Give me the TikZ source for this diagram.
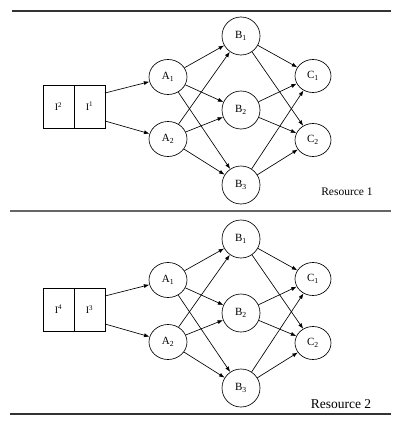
\documentclass[tikz,border=0pt]{standalone}
\usepackage{fontspec}
\setmainfont{Liberation Serif}
\usetikzlibrary{arrows.meta,shapes.geometric}
\begin{document}
\begin{tikzpicture}[x=1pt,y=-1pt,
  nodeA/.style={draw,ellipse,line width=0.65pt,minimum width=38pt,minimum height=35pt,inner sep=0pt,font=\fontsize{11}{13}\selectfont},
  nodeB/.style={nodeA,minimum height=38pt},
  nodeC/.style={nodeA,minimum width=36pt,minimum height=33pt},
  cell/.style={draw,line width=0.65pt,minimum width=31pt,minimum height=43pt,inner sep=0pt,font=\fontsize{10}{12}\selectfont},
  arr/.style={-{Latex[length=5.5pt,width=4pt]},line width=0.65pt},
  rule/.style={line width=1.2pt,draw=black!80}]
\useasboundingbox (0,0) rectangle (406,423);
\draw[rule] (12,11) -- (391,11);
\draw[line width=1.6pt,draw=black!60] (10,211) -- (391,211);
\draw[rule] (10,414) -- (391,414);
\foreach \p/\dy/\ia/\ib in {1/0/2/1,2/203/4/3}{
\begin{scope}[yshift=-\dy pt]
  \node[cell] (L\p) at (58.5,106.5) {I\textsuperscript{\ia}};
  \node[cell] (R\p) at (89.5,106.5) {I\textsuperscript{\ib}};
  \coordinate (o1\p) at (105,93);
  \coordinate (o2\p) at (105,121);
  \node[nodeA] (A1\p) at (168,77) {A\textsubscript{1}};
  \node[nodeA] (A2\p) at (168,139) {A\textsubscript{2}};
  \node[nodeB] (B1\p) at (241,36) {B\textsubscript{1}};
  \node[nodeB] (B2\p) at (241,110) {B\textsubscript{2}};
  \node[nodeB] (B3\p) at (241,185) {B\textsubscript{3}};
  \node[nodeC] (C1\p) at (313,76) {C\textsubscript{1}};
  \node[nodeC] (C2\p) at (313,140) {C\textsubscript{2}};
  \draw[arr] (o1\p) -- (A1\p);
  \draw[arr] (o2\p) -- (A2\p);
  \foreach \a in {1,2}{\foreach \b in {1,2,3}{\draw[arr] (A\a\p) -- (B\b\p);}}
  \foreach \b in {1,2,3}{\foreach \c in {1,2}{\draw[arr] (B\b\p) -- (C\c\p);}}
\end{scope}
}
\node[font=\fontsize{11.5}{13}\selectfont] (res1) at (347,192) {Resource 1};
\node[font=\fontsize{13.5}{15}\selectfont] (res2) at (341,404) {Resource 2};
\end{tikzpicture}
\end{document}
